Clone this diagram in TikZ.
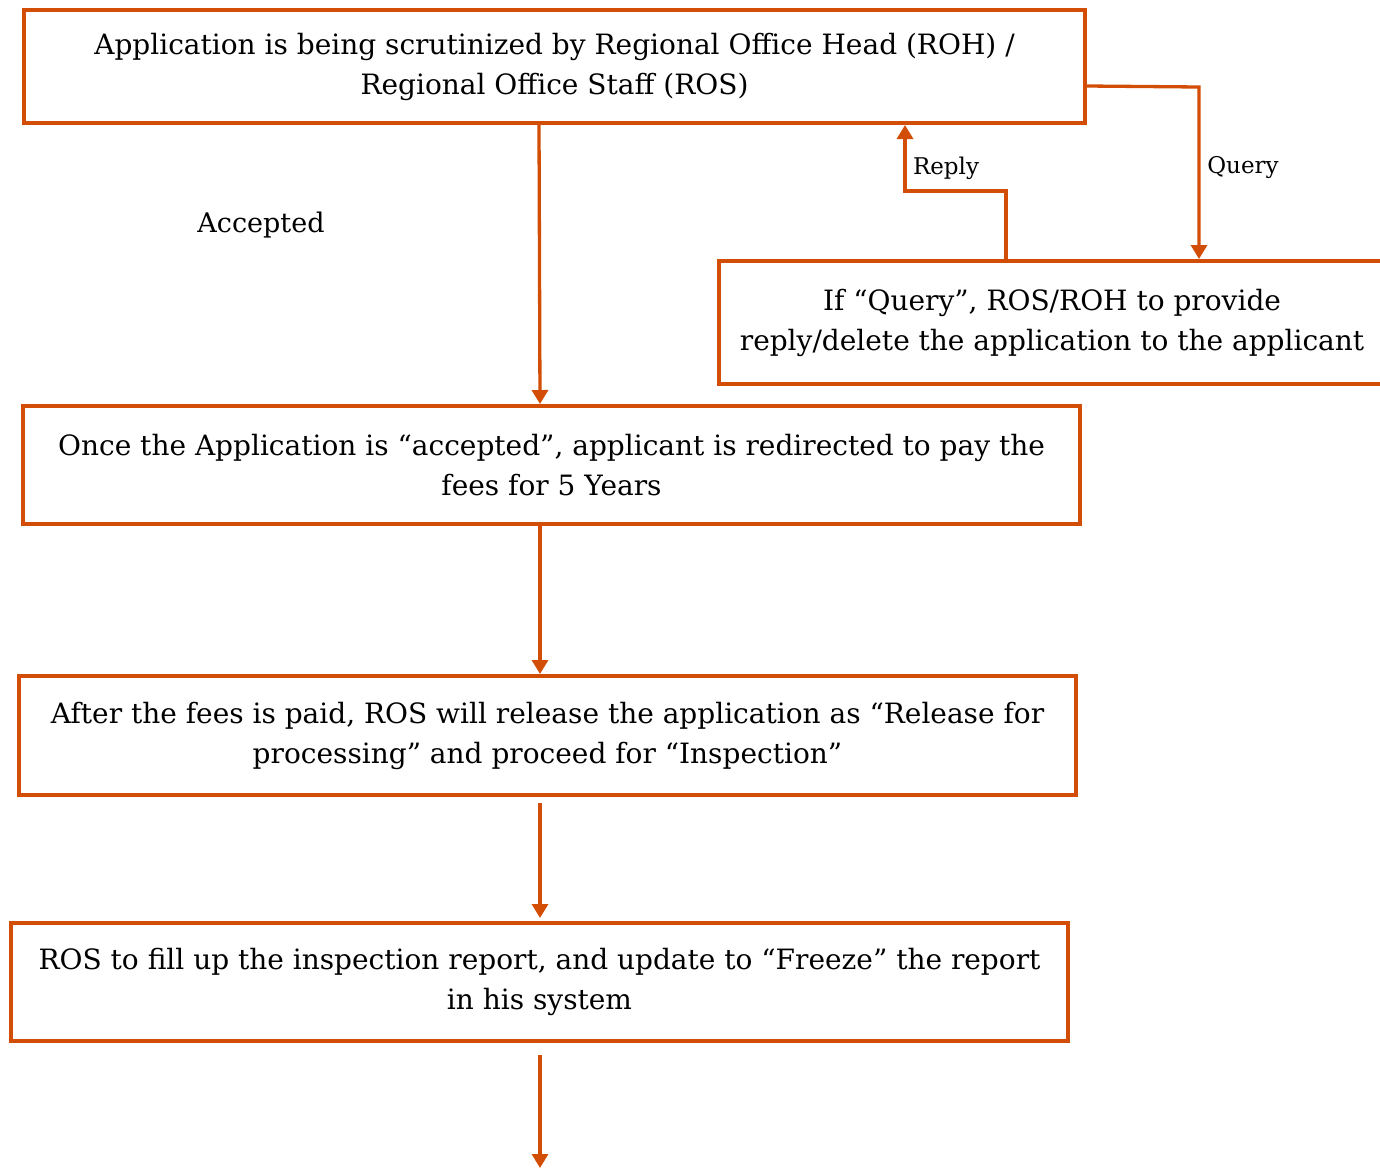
\documentclass[tikz,border=0pt]{standalone}
\usepackage{fontspec}
\setmainfont{DejaVu Serif}
\usetikzlibrary{arrows.meta}
\definecolor{org}{RGB}{210,78,6}
\begin{document}
\begin{tikzpicture}[x=1pt,y=-1pt,
  box/.style={draw=org,line width=4pt,rectangle,inner sep=0pt,align=center,
    font=\fontsize{28}{40}\selectfont},
  arr/.style={draw=org,line width=3.3pt,-{Triangle[width=16pt,length=14pt]}},
  lbl/.style={font=\fontsize{27}{32}\selectfont,inner sep=0pt},
  slbl/.style={font=\fontsize{23}{28}\selectfont,inner sep=0pt}]
\useasboundingbox (0,0) rectangle (1380,1168);
\node[box,minimum width=1061pt,minimum height=113pt] (b1) at (554.5,66.5)
  {Application is being scrutinized by Regional Office Head (ROH) /\\Regional Office Staff (ROS)};
\node[box,minimum width=666pt,minimum height=123pt] (b5) at (1052,322.5)
  {If “Query”, ROS/ROH to provide\\reply/delete the application to the applicant};
\node[box,minimum width=1057pt,minimum height=118pt] (b2) at (551.5,465)
  {Once the Application is “accepted”, applicant is redirected to pay the\\fees for 5 Years};
\node[box,minimum width=1057pt,minimum height=119pt] (b3) at (547.5,735.5)
  {After the fees is paid, ROS will release the application as “Release for\\processing” and proceed for “Inspection”};
\node[box,minimum width=1057pt,minimum height=118pt] (b4) at (539.5,982)
  {ROS to fill up the inspection report, and update to “Freeze” the report\\in his system};
\node[lbl] (acc) at (261,225) {Accepted};
\node[slbl] (rep) at (946,168) {Reply};
\node[slbl] (qry) at (1243,168) {Query};
\coordinate (c3s) at (540,803);
\coordinate (c4e) at (540,918);
\coordinate (c5s) at (540,1055);
\coordinate (c5e) at (540,1168);
\draw[arr] (b1.south -| 539,0) -- (b2.north -| 540,0);
\draw[arr] (b2.south -| 540,0) -- (b3.north -| 540,0);
\draw[arr] (c3s) -- (c4e);
\draw[arr] (c5s) -- (c5e);
\draw[arr] (b1.east |- 0,86) -- (1199,87) -- (b5.north -| 1199,0);
\draw[arr] (b5.north -| 1006,0) -- (1006,191) -- (905,191) -- (b1.south -| 905,0);
\end{tikzpicture}
\end{document}
